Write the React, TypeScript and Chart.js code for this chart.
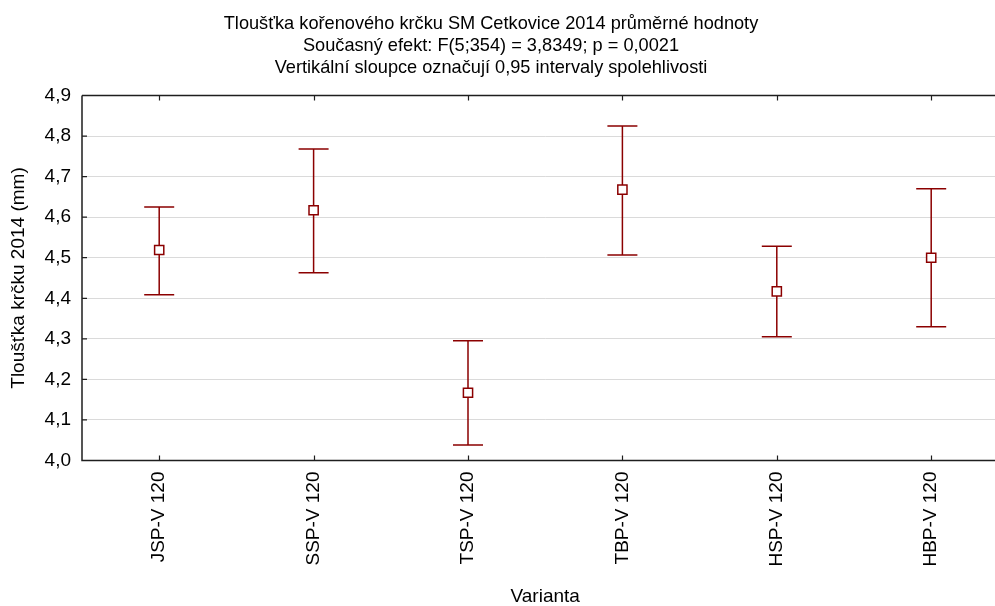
import React, { useEffect, useRef } from "react";
import { Chart, registerables } from "chart.js";

Chart.register(...registerables);

const categories = ["JSP-V 120", "SSP-V 120", "TSP-V 120", "TBP-V 120", "HSP-V 120", "HBP-V 120"];
const means = [4.519, 4.617, 4.167, 4.668, 4.417, 4.5];
const lower = [4.409, 4.463, 4.038, 4.507, 4.305, 4.33];
const upper = [4.625, 4.768, 4.295, 4.825, 4.528, 4.67];
const titleLines = [
  "Tloušťka kořenového krčku SM Cetkovice 2014 průměrné hodnoty",
  "Současný efekt: F(5;354) = 3,8349; p = 0,0021",
  "Vertikální sloupce označují 0,95 intervaly spolehlivosti",
];
const yTitle = "Tloušťka krčku 2014 (mm)";
const xTitle = "Varianta";
const yMin = 4.0;
const yMax = 4.9;
const yStep = 0.1;

const FONT = "'Liberation Sans', Arial, Helvetica, sans-serif";
const RED = "#8b0000";
const AXIS = "#1e1e1e";

const titleShiftPlugin = {
  id: "titleShift",
  afterLayout(chart: any) {
    const t = chart.titleBlock;
    if (t) {
      t.left = 0;
      t.right = 982;
      t.width = 982;
    }
  },
};

const errorBarPlugin = {
  id: "errorBars",
  beforeDatasetsDraw(chart: any) {
    const { ctx } = chart;
    const xs = chart.scales.x;
    const ys = chart.scales.y;
    ctx.save();
    ctx.strokeStyle = RED;
    ctx.lineWidth = 1.5;
    for (let i = 0; i < categories.length; i++) {
      const x = xs.getPixelForValue(i);
      const yl = ys.getPixelForValue(lower[i]);
      const yu = ys.getPixelForValue(upper[i]);
      ctx.beginPath();
      ctx.moveTo(x, yl);
      ctx.lineTo(x, yu);
      ctx.moveTo(x - 15, yl);
      ctx.lineTo(x + 15, yl);
      ctx.moveTo(x - 15, yu);
      ctx.lineTo(x + 15, yu);
      ctx.stroke();
    }
    ctx.restore();
  },
};

const framePlugin = {
  id: "frame",
  afterDraw(chart: any) {
    const { ctx, chartArea, width } = chart;
    const xs = chart.scales.x;
    const ys = chart.scales.y;
    const { left, top, bottom } = chartArea;
    ctx.save();
    ctx.strokeStyle = AXIS;
    ctx.lineWidth = 1.5;
    ctx.beginPath();
    ctx.moveTo(left, top);
    ctx.lineTo(width, top);
    ctx.moveTo(left, top);
    ctx.lineTo(left, bottom);
    ctx.lineTo(width, bottom);
    ctx.stroke();
    ctx.lineWidth = 1.2;
    ctx.beginPath();
    for (let i = 0; i < categories.length; i++) {
      const x = Math.round(xs.getPixelForValue(i)) + 0.5;
      ctx.moveTo(x, bottom);
      ctx.lineTo(x, bottom - 5);
      ctx.moveTo(x, top);
      ctx.lineTo(x, top + 5);
    }
    ys.ticks.forEach((t: any) => {
      const y = ys.getPixelForValue(t.value);
      ctx.moveTo(left, y);
      ctx.lineTo(left + 5, y);
    });
    ctx.stroke();
    ctx.restore();
  },
};

export default function App() {
  const ref = useRef<HTMLCanvasElement | null>(null);

  useEffect(() => {
    if (!ref.current) return;
    const chart = new Chart(ref.current, {
      type: "line",
      data: {
        labels: categories,
        datasets: [
          {
            data: means,
            showLine: false,
            pointStyle: "rect",
            pointRadius: 6.5,
            pointBorderWidth: 1.5,
            pointBorderColor: RED,
            pointBackgroundColor: "#ffffff",
            borderColor: RED,
            backgroundColor: "#ffffff",
          },
        ],
      },
      options: {
        responsive: false,
        animation: false,
        events: [],
        layout: { padding: { top: 0, left: 0, right: 11.6, bottom: 0 } },
        plugins: {
          legend: { display: false },
          tooltip: { enabled: false },
          title: {
            display: true,
            text: titleLines,
            color: "#000",
            font: { family: FONT, size: 18.2, weight: "normal", lineHeight: 22 / 18.2 },
            padding: { top: 13, bottom: 16.5 },
          },
        },
        scales: {
          x: {
            type: "category",
            offset: true,
            grid: { display: false, drawTicks: false },
            border: { display: false },
            ticks: {
              color: "#000",
              font: { family: FONT, size: 19 },
              minRotation: 90,
              maxRotation: 90,
              padding: 11,
              autoSkip: false,
            },
            title: {
              display: true,
              text: xTitle,
              color: "#000",
              font: { family: FONT, size: 19, lineHeight: 1 },
              padding: { top: 0, bottom: 0 },
            },
            afterFit(scale: any) {
              scale.height = 606 - 460.5;
            },
          },
          y: {
            min: yMin,
            max: yMax,
            grid: { color: "#dadada", lineWidth: 1, drawTicks: false },
            border: { display: false },
            ticks: {
              stepSize: yStep,
              color: "#000",
              font: { family: FONT, size: 19 },
              padding: 11,
              callback: (v: any) => Number(v).toFixed(1).replace(".", ","),
            },
            title: {
              display: true,
              text: yTitle,
              color: "#000",
              font: { family: FONT, size: 19, lineHeight: 1 },
              padding: { top: 9.5, bottom: 0 },
            },
            afterFit(scale: any) {
              scale.width = 82;
            },
          },
        },
      },
      plugins: [titleShiftPlugin, errorBarPlugin, framePlugin],
    });
    return () => chart.destroy();
  }, []);

  return (
    <div
      style={{
        position: "fixed",
        left: 0,
        top: 0,
        width: 995,
        height: 606,
        overflow: "hidden",
        background: "#fff",
      }}
    >
      <canvas ref={ref} width={1020} height={606} style={{ width: 1020, height: 606, display: "block" }} />
    </div>
  );
}
